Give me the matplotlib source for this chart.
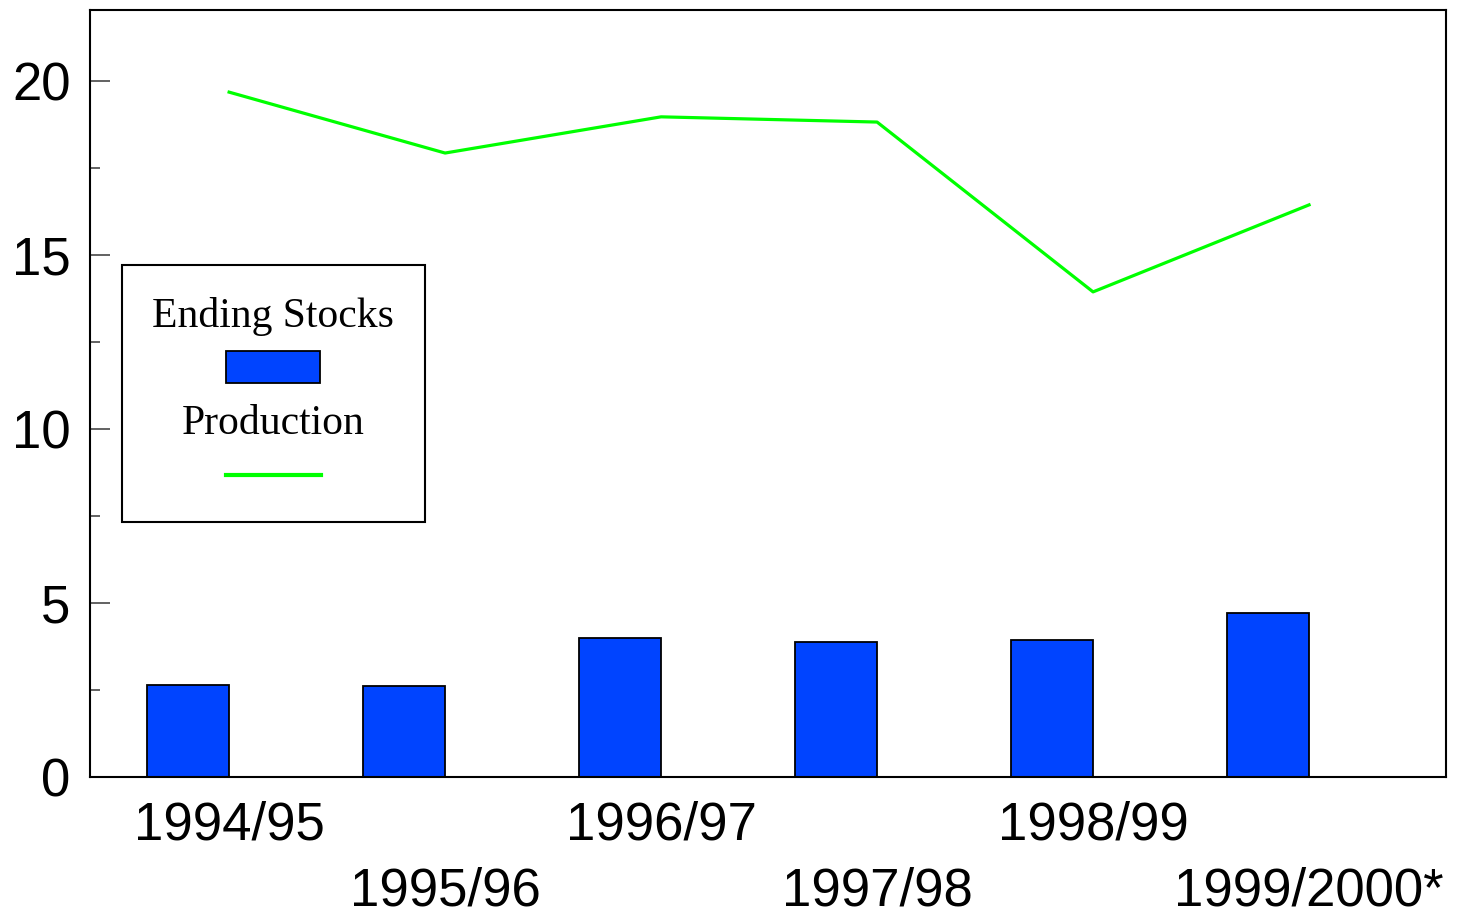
import matplotlib
matplotlib.use("Agg")
import matplotlib.pyplot as plt
from matplotlib.patches import Rectangle
from matplotlib.lines import Line2D
import numpy as np

categories = ["1994/95", "1995/96", "1996/97", "1997/98", "1998/99", "1999/2000*"]
ending_stocks = [2.64, 2.61, 3.99, 3.88, 3.94, 4.71]
production = [19.68, 17.93, 18.97, 18.82, 13.94, 16.44]

BAR_COLOR = "#0044ff"
LINE_COLOR = "#00ff00"

fig = plt.figure(figsize=(14.57, 9.11), dpi=100)
ax = fig.add_axes([90/1457, 1 - 777/911, 1356/1457, 767/911])

x = np.arange(len(categories))
ax.bar(x, ending_stocks, width=-0.38, align="edge", color=BAR_COLOR,
       edgecolor="black", linewidth=1.3, zorder=2)
ax.plot(x, production, color=LINE_COLOR, linewidth=2.3, zorder=3)

ax.set_xlim(-0.644, 5.634)
ax.set_ylim(0, 22.04)

ax.set_yticks([0, 5, 10, 15, 20])
ax.set_yticks([2.5, 7.5, 12.5, 17.5], minor=True)
ax.tick_params(axis="y", which="major", direction="in", length=14.4, width=1.3,
               color="#555555", labelsize=38, pad=14)
ax.tick_params(axis="y", which="minor", direction="in", length=7.2, width=1.3,
               color="#555555")

ax.set_xticks(x[::2])
ax.set_xticklabels(categories[::2])
ax.set_xticks(x[1::2], minor=True)
ax.set_xticklabels(categories[1::2], minor=True)
ax.tick_params(axis="x", which="major", length=0, labelsize=38, pad=17)
ax.tick_params(axis="x", which="minor", length=0, labelsize=38, pad=64.5)
for lab in ax.get_xticklabels(which="both") + ax.get_yticklabels():
    lab.set_fontfamily("Liberation Sans")

for s in ax.spines.values():
    s.set_linewidth(1.5)
    s.set_color("black")

# legend (drawn manually in axes coordinates)
tr = ax.transAxes
ax.add_patch(Rectangle((0.0236, 0.3325), 0.2235, 0.335, transform=tr,
                       facecolor="white", edgecolor="black", linewidth=1.5, zorder=5))
ax.text(0.135, 0.600, "Ending Stocks", transform=tr, ha="center", va="center",
        fontsize=30, family="Liberation Serif", zorder=6)
ax.add_patch(Rectangle((0.1003, 0.5137), 0.0693, 0.0417, transform=tr,
                       facecolor=BAR_COLOR, edgecolor="black", linewidth=1.3, zorder=6))
ax.text(0.135, 0.460, "Production", transform=tr, ha="center", va="center",
        fontsize=30, family="Liberation Serif", zorder=6)
ax.add_line(Line2D([0.1003, 0.1704], [0.3937, 0.3937], transform=tr,
                   color=LINE_COLOR, linewidth=3, zorder=6))

fig.savefig("out.png", dpi=100)
